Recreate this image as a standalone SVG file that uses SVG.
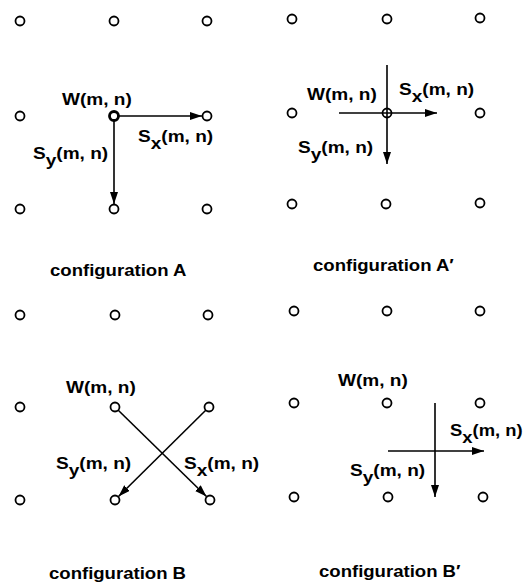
<svg xmlns="http://www.w3.org/2000/svg" width="525" height="586" viewBox="0 0 525 586">
<style>
.pt{fill:none;stroke:#000;stroke-width:1.8}
.pw{fill:none;stroke:#000;stroke-width:2.8}
.ln{fill:none;stroke:#000;stroke-width:1.6}
.t{font-family:"Liberation Sans",Arial,sans-serif;font-weight:bold;font-size:16px;fill:#000}
</style>
<defs>
<marker id="ah" markerUnits="userSpaceOnUse" markerWidth="13" markerHeight="9" refX="12" refY="4" orient="auto">
<path d="M0,0 L12,4 L0,8 z" fill="#000"/>
</marker>
</defs>
<rect width="525" height="586" fill="#fff"/>

<g id="panelA">
<circle class="pt" cx="20" cy="21" r="4.5"/><circle class="pt" cx="114" cy="21" r="4.5"/><circle class="pt" cx="207" cy="21" r="4.5"/>
<circle class="pt" cx="20" cy="116" r="4.5"/><circle id="A-W" class="pw" cx="114" cy="116" r="4.5"/><circle class="pt" cx="207" cy="116" r="4.5"/>
<circle class="pt" cx="20" cy="209" r="4.5"/><circle class="pt" cx="114" cy="209" r="4.5"/><circle class="pt" cx="207" cy="209" r="4.5"/>
<text class="t" transform="translate(62,105) scale(1.19,1)">W(m, n)</text>
<text class="t" transform="translate(138,142) scale(1.19,1)">S<tspan dy="7">x</tspan><tspan dy="-7">(m, n)</tspan></text>
<text class="t" transform="translate(33,159) scale(1.19,1)">S<tspan dy="7">y</tspan><tspan dy="-7">(m, n)</tspan></text>
<text class="t" transform="translate(50,276) scale(1.16,1)">configuration A</text>
</g>

<g id="panelA2">
<circle class="pt" cx="292" cy="19" r="4.5"/><circle class="pt" cx="387" cy="19" r="4.5"/><circle class="pt" cx="480" cy="18" r="4.5"/>
<circle class="pt" cx="292" cy="113" r="4.5"/><circle id="A2-W" class="pt" cx="387" cy="113" r="4.5"/><circle class="pt" cx="480" cy="113" r="4.5"/>
<circle class="pt" cx="292" cy="204" r="4.5"/><circle class="pt" cx="386" cy="204" r="4.5"/><circle class="pt" cx="480" cy="203" r="4.5"/>
<text class="t" transform="translate(307,100) scale(1.19,1)">W(m, n)</text>
<text class="t" transform="translate(399,95) scale(1.19,1)">S<tspan dy="7">x</tspan><tspan dy="-7">(m, n)</tspan></text>
<text class="t" transform="translate(298,153) scale(1.19,1)">S<tspan dy="7">y</tspan><tspan dy="-7">(m, n)</tspan></text>
<text class="t" transform="translate(313,271) scale(1.16,1)">configuration A′</text>
</g>

<g id="panelB">
<circle class="pt" cx="20" cy="315" r="4.5"/><circle class="pt" cx="115" cy="315" r="4.5"/><circle class="pt" cx="208" cy="315" r="4.5"/>
<circle class="pt" cx="20" cy="407" r="4.5"/><circle id="B-W" class="pt" cx="115" cy="407" r="4.5"/><circle class="pt" cx="209" cy="407" r="4.5"/>
<circle class="pt" cx="20" cy="500" r="4.5"/><circle class="pt" cx="115" cy="500" r="4.5"/><circle class="pt" cx="210" cy="500" r="4.5"/>
<text class="t" transform="translate(66,393) scale(1.19,1)">W(m, n)</text>
<text class="t" transform="translate(184,469) scale(1.19,1)">S<tspan dy="7">x</tspan><tspan dy="-7">(m, n)</tspan></text>
<text class="t" transform="translate(56,469) scale(1.19,1)">S<tspan dy="7">y</tspan><tspan dy="-7">(m, n)</tspan></text>
<text class="t" transform="translate(49,579) scale(1.16,1)">configuration B</text>
</g>

<g id="panelB2">
<circle class="pt" cx="294" cy="311" r="4.5"/><circle class="pt" cx="387" cy="311" r="4.5"/><circle class="pt" cx="480" cy="311" r="4.5"/>
<circle class="pt" cx="294" cy="403" r="4.5"/><circle id="B2-W" class="pt" cx="387" cy="403" r="4.5"/><circle class="pt" cx="480" cy="403" r="4.5"/>
<circle class="pt" cx="294" cy="497" r="4.5"/><circle class="pt" cx="388" cy="497" r="4.5"/><circle class="pt" cx="483" cy="497" r="4.5"/>
<text class="t" transform="translate(338,386) scale(1.19,1)">W(m, n)</text>
<text class="t" transform="translate(450,436) scale(1.15,1)">S<tspan dy="7">x</tspan><tspan dy="-7">(m, n)</tspan></text>
<text class="t" transform="translate(350,476) scale(1.19,1)">S<tspan dy="7">y</tspan><tspan dy="-7">(m, n)</tspan></text>
<text class="t" transform="translate(319,577) scale(1.16,1)">configuration B′</text>
</g>

<g id="connectors">
<line class="ln" x1="118.5" y1="116" x2="202" y2="116" marker-end="url(#ah)"/>
<line class="ln" x1="114" y1="120.5" x2="114" y2="204" marker-end="url(#ah)"/>
<line class="ln" x1="339" y1="113" x2="437" y2="113" marker-end="url(#ah)"/>
<line class="ln" x1="387" y1="65" x2="387" y2="164" marker-end="url(#ah)"/>
<line class="ln" x1="118" y1="410" x2="206.5" y2="496.5" marker-end="url(#ah)"/>
<line class="ln" x1="206" y1="410" x2="118.5" y2="496.5" marker-end="url(#ah)"/>
<line class="ln" x1="388" y1="451" x2="484" y2="451" marker-end="url(#ah)"/>
<line class="ln" x1="435" y1="403" x2="435" y2="497" marker-end="url(#ah)"/>
</g>
</svg>
